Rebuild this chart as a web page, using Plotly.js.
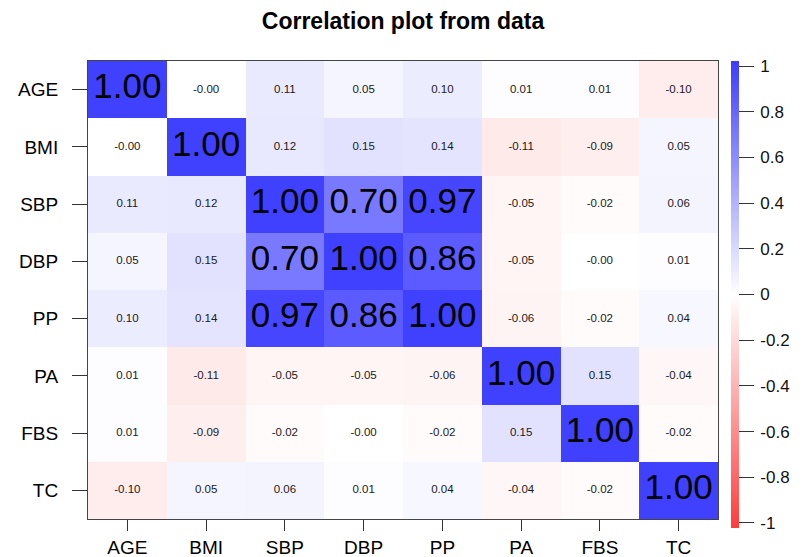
<!DOCTYPE html>
<html>
<head>
<meta charset="utf-8">
<script src="https://cdn.plot.ly/plotly-3.0.1.min.js"></script>
<style>html,body{margin:0;padding:0;background:#fff;}#chart{width:803px;height:557px;}</style>
</head>
<body>
<div id="chart"></div>
<script>
var variables = ["AGE", "BMI", "SBP", "DBP", "PP", "PA", "FBS", "TC"];
var rowAGE = [1.00, -0.00, 0.11, 0.05, 0.10, 0.01, 0.01, -0.10];
var rowBMI = [-0.00, 1.00, 0.12, 0.15, 0.14, -0.11, -0.09, 0.05];
var rowSBP = [0.11, 0.12, 1.00, 0.70, 0.97, -0.05, -0.02, 0.06];
var rowDBP = [0.05, 0.15, 0.70, 1.00, 0.86, -0.05, -0.00, 0.01];
var rowPP  = [0.10, 0.14, 0.97, 0.86, 1.00, -0.06, -0.02, 0.04];
var rowPA  = [0.01, -0.11, -0.05, -0.05, -0.06, 1.00, 0.15, -0.04];
var rowFBS = [0.01, -0.09, -0.02, -0.00, -0.02, 0.15, 1.00, -0.02];
var rowTC  = [-0.10, 0.05, 0.06, 0.01, 0.04, -0.04, -0.02, 1.00];
var colorbarTicks = [1, 0.8, 0.6, 0.4, 0.2, 0, -0.2, -0.4, -0.6, -0.8, -1];

var corr = [rowAGE, rowBMI, rowSBP, rowDBP, rowPP, rowPA, rowFBS, rowTC];

function fmt(v) {
  if (v < 0 || Object.is(v, -0)) return "-" + Math.abs(v).toFixed(2);
  return v.toFixed(2);
}

var tx = [], ty = [], tt = [], ts = [], tc = [];
for (var i = 0; i < variables.length; i++) {
  for (var j = 0; j < variables.length; j++) {
    var v = corr[i][j];
    tx.push(variables[j]);
    ty.push(variables[i]);
    tt.push(fmt(v));
    var big = Math.abs(v) >= 0.5;
    ts.push(big ? 35 : 11.5);
    tc.push(big ? "#000000" : "#1a1a1a");
  }
}

var FONT = "Liberation Sans, Arial, sans-serif";

var heat = {
  type: "heatmap",
  x: variables,
  y: variables,
  z: corr,
  zmin: -1.022,
  zmax: 1.022,
  colorscale: [[0, "rgb(255,60,60)"], [0.5, "rgb(255,255,255)"], [1, "rgb(60,60,255)"]],
  xgap: 0, ygap: 0,
  hoverinfo: "skip",
  colorbar: {
    x: 1.0207, xanchor: "left", xpad: 0,
    y: 1, yanchor: "top", ypad: 0,
    lenmode: "pixels", len: 467,
    thickness: 8,
    outlinewidth: 0,
    ticks: "outside", ticklen: 15, tickwidth: 1, tickcolor: "#333",
    tickvals: colorbarTicks,
    ticktext: colorbarTicks.map(function (t) { return "\u2009" + String(t); }),
    tickfont: { family: FONT, size: 17, color: "#111" }
  }
};

var labels = {
  type: "scatter",
  mode: "text",
  x: tx, y: ty, text: tt,
  textposition: "middle center",
  textfont: { family: FONT, size: ts, color: tc },
  hoverinfo: "skip",
  showlegend: false
};

var layout = {
  width: 803, height: 557,
  margin: { l: 88, r: 85, t: 61, b: 38 },
  paper_bgcolor: "#ffffff",
  plot_bgcolor: "#ffffff",
  title: {
    text: "<b>Correlation plot from data</b>",
    font: { family: FONT, size: 23, color: "#000" },
    x: 0.5, xref: "paper", xanchor: "center",
    y: 0.962, yref: "container", yanchor: "middle"
  },
  xaxis: {
    type: "category",
    categoryorder: "array", categoryarray: variables,
    showgrid: false, zeroline: false,
    showline: true, mirror: true, linecolor: "#444", linewidth: 1,
    ticks: "outside", ticklen: 11, tickcolor: "#333", tickwidth: 1,
    ticklabelstandoff: 0,
    tickfont: { family: FONT, size: 19, color: "#000" },
    automargin: false, fixedrange: true
  },
  yaxis: {
    type: "category",
    categoryorder: "array", categoryarray: variables,
    autorange: "reversed",
    showgrid: false, zeroline: false,
    showline: true, mirror: true, linecolor: "#444", linewidth: 1,
    ticks: "outside", ticklen: 15, tickcolor: "#333", tickwidth: 1,
    ticklabelstandoff: 10,
    tickfont: { family: FONT, size: 19, color: "#000" },
    automargin: false, fixedrange: true
  },
  shapes: [{
    type: "line", xref: "paper", yref: "paper",
    x0: 1.0317, x1: 1.0317, y0: -0.0087, y1: 1.0,
    line: { color: "#333", width: 1 }
  }],
  showlegend: false
};

Plotly.newPlot("chart", [heat, labels], layout, { displayModeBar: false, staticPlot: true });
</script>
</body>
</html>
